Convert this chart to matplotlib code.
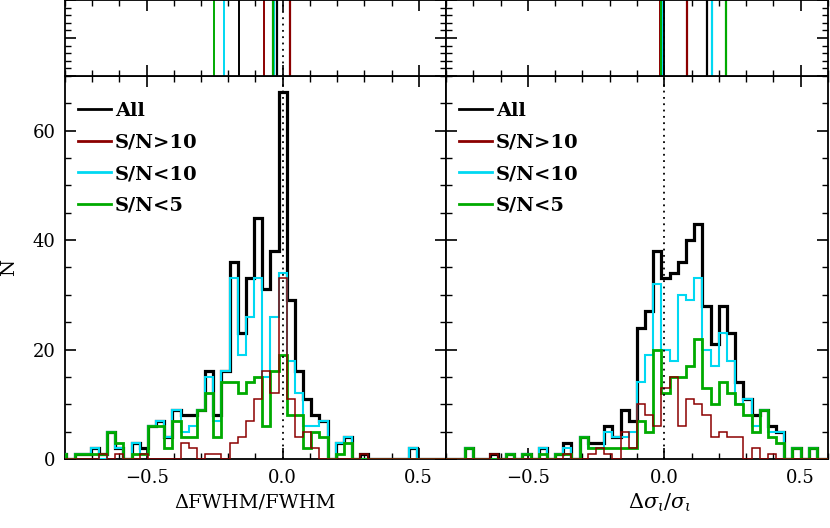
import numpy as np
import matplotlib
matplotlib.use('Agg')
import matplotlib.pyplot as plt
from matplotlib.ticker import MultipleLocator

plt.rcParams['font.family'] = ['DejaVu Serif']
plt.rcParams['mathtext.fontset'] = 'dejavuserif'

# bins of width 0.03 (left panel centred on multiples of 0.03)
fwhm_edges = -0.825 + 0.03 * np.arange(49)
sig_edges = -0.82 + 0.03 * np.arange(49)

# dFWHM/FWHM histograms
fwhm_all = [1, 0, 1, 1, 2, 1, 5, 2, 0, 3, 2, 6, 7, 4, 9, 8, 8, 9, 16, 8,
            16, 36, 23, 33, 44, 31, 38, 67, 29, 16, 11, 8, 7, 0, 3, 4, 0, 1, 0, 0,
            0, 0, 0, 2, 0, 0, 0, 0]
fwhm_hi = [0, 0, 0, 0, 0, 1, 0, 1, 0, 0, 1, 0, 0, 0, 0, 3, 2, 0, 1, 1,
           0, 3, 4, 7, 11, 16, 12, 33, 11, 4, 5, 2, 0, 0, 0, 0, 0, 1, 0, 0,
           0, 0, 0, 0, 0, 0, 0, 0]
fwhm_lo10 = [1, 0, 1, 1, 2, 0, 5, 2, 0, 3, 1, 6, 7, 4, 9, 5, 6, 9, 15, 7,
             16, 33, 19, 26, 33, 15, 26, 34, 18, 12, 6, 6, 7, 0, 3, 4, 0, 0, 0, 0,
             0, 0, 0, 2, 0, 0, 0, 0]
fwhm_lo5 = [1, 0, 1, 1, 1, 1, 5, 3, 0, 1, 1, 6, 6, 2, 7, 4, 4, 9, 12, 4,
            14, 14, 12, 14, 15, 6, 16, 19, 8, 8, 2, 5, 4, 0, 1, 3, 0, 0, 0, 0,
            0, 0, 0, 0, 0, 0, 0, 0]

# dsigma/sigma histograms
sig_all = [0, 0, 0, 2, 0, 0, 1, 0, 1, 0, 1, 0, 2, 0, 1, 3, 0, 4, 3, 3,
           6, 4, 9, 7, 24, 27, 38, 33, 34, 36, 40, 43, 28, 21, 28, 23, 14, 11, 8, 9,
           6, 5, 0, 2, 0, 2, 0, 0]
sig_hi = [0, 0, 0, 0, 0, 0, 1, 0, 0, 0, 0, 0, 0, 0, 0, 1, 0, 0, 1, 2,
          1, 0, 5, 2, 10, 8, 6, 13, 15, 6, 11, 10, 8, 4, 5, 4, 4, 0, 2, 0,
          1, 0, 0, 0, 0, 0, 0, 0]
sig_lo10 = [0, 0, 0, 2, 0, 0, 0, 0, 1, 0, 1, 0, 2, 0, 1, 2, 0, 4, 2, 2,
            5, 4, 4, 5, 14, 19, 32, 20, 18, 30, 29, 33, 20, 17, 23, 18, 10, 11, 6, 9,
            5, 5, 0, 2, 0, 2, 0, 0]
sig_lo5 = [0, 0, 0, 2, 0, 0, 0, 0, 1, 0, 1, 0, 1, 0, 1, 1, 0, 4, 2, 2,
           2, 2, 2, 2, 7, 5, 20, 12, 15, 15, 17, 22, 13, 10, 14, 12, 10, 8, 5, 9,
           4, 3, 0, 2, 0, 2, 0, 0]

# markers in the top strips (order: All, S/N>10, S/N<10, S/N<5)
fwhm_marks1 = [-0.161, -0.067, -0.216, -0.253]
fwhm_marks2 = [-0.022, 0.027, -0.033, -0.037]
sig_marks1 = [-0.002, -0.017, -0.007, -0.011]
sig_marks2 = [0.155, 0.084, 0.174, 0.227]

labels = ['All', 'S/N>10', 'S/N<10', 'S/N<5']
colors = ['black', '#8b0000', '#00d8f2', '#00aa00']
widths = [2.3, 1.1, 1.5, 2.0]
zorders = [2, 5, 3, 4]

fig = plt.figure(figsize=(8.3, 5.28), dpi=100)
axL = fig.add_axes([0.0783, 0.1307, 0.459, 0.7254])
axR = fig.add_axes([0.5373, 0.1307, 0.4602, 0.7254])
tL = fig.add_axes([0.0783, 0.856, 0.459, 0.144])
tR = fig.add_axes([0.5373, 0.856, 0.4602, 0.144])


def style(ax, ymaj, ymin):
    ax.set_xlim(-0.8, 0.6)
    ax.xaxis.set_major_locator(MultipleLocator(0.5))
    ax.xaxis.set_minor_locator(MultipleLocator(0.1))
    ax.yaxis.set_major_locator(MultipleLocator(ymaj))
    ax.yaxis.set_minor_locator(MultipleLocator(ymin))
    ax.tick_params(which='both', direction='in', top=True, right=True,
                   labelsize=13, pad=7)
    ax.tick_params(which='major', length=8, width=1.2)
    ax.tick_params(which='minor', length=4, width=1.0)
    for s in ax.spines.values():
        s.set_linewidth(1.3)


for ax, edges, hists in [(axL, fwhm_edges, [fwhm_all, fwhm_hi, fwhm_lo10, fwhm_lo5]),
                         (axR, sig_edges, [sig_all, sig_hi, sig_lo10, sig_lo5])]:
    for h, lab, c, lw, z in zip(hists, labels, colors, widths, zorders):
        ax.stairs(h, edges, baseline=0, color=c, lw=lw, label=lab, zorder=z)
    ax.axvline(0, color='black', ls=(0, (1, 2.5)), lw=1.3, zorder=6)
    style(ax, 20, 5)
    ax.set_ylim(0, 70)
    leg = ax.legend(loc='upper left', bbox_to_anchor=(0.034, 0.932),
                    frameon=False, handlelength=1.7, handletextpad=0.2,
                    labelspacing=0.7, borderaxespad=0, borderpad=0,
                    prop={'family': 'DejaVu Serif', 'weight': 'bold', 'size': 14})
    for line in leg.get_lines():
        line.set_linewidth(2.0)

axL.set_ylabel('N', fontsize=14, labelpad=10)
axL.set_xlabel('ΔFWHM/FWHM', fontsize=14, labelpad=5)
axR.set_xlabel(r'$\Delta\sigma_\iota/\sigma_\iota$', fontsize=15, labelpad=3)
axR.xaxis.set_label_coords(0.56, -0.085)
axR.tick_params(labelleft=False)

for ax, m1, m2 in [(tL, fwhm_marks1, fwhm_marks2), (tR, sig_marks1, sig_marks2)]:
    for v1, v2, c in zip(m1, m2, colors):
        ax.axvline(v1, color=c, lw=1.4)
        ax.axvline(v2, color=c, lw=1.6)
    ax.axvline(0, color='black', ls=(0, (1, 2.5)), lw=1.3)
    style(ax, 0.5, 0.1)
    ax.set_ylim(0, 1)
    ax.tick_params(labelbottom=False, labelleft=False)

fig.savefig('out.png', dpi=100)
